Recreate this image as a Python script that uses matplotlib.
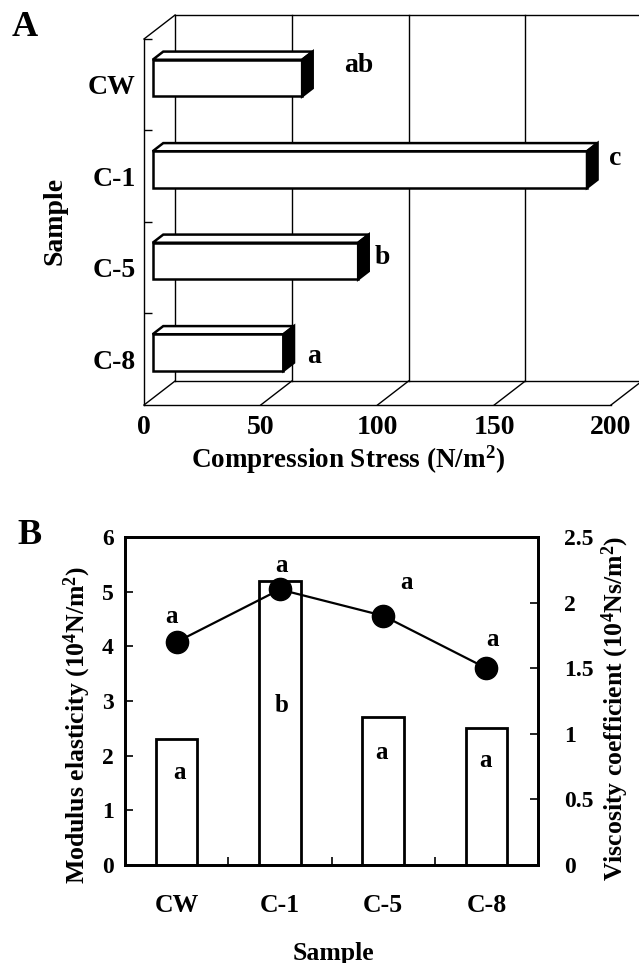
import matplotlib
matplotlib.use("Agg")
import matplotlib.pyplot as plt
from matplotlib.patches import Polygon

# Panel A: compression stress (3D style horizontal bars)
samples = ["CW", "C-1", "C-5", "C-8"]
stress = [64, 186, 88, 56]
stress_letters = ["ab", "c", "b", "a"]
stress_letter_x = [92, 202, 102, 73]
stress_letter_y = [-0.21, 0.81, 1.89, 2.97]
stress_ticks = [0, 50, 100, 150, 200]

# Panel B: modulus (bars, left axis) and viscosity (line, right axis)
modulus = [2.3, 5.2, 2.7, 2.5]
viscosity = [1.7, 2.1, 1.9, 1.5]
modulus_letters = ["a", "b", "a", "a"]
modulus_letter_x = [0.03, 1.02, 1.98, 2.99]
modulus_letter_y = [1.70, 2.92, 2.05, 1.92]
visc_letters = ["a", "a", "a", "a"]
visc_letter_x = [-0.045, 1.02, 2.23, 3.06]
visc_letter_y = [4.55, 5.48, 5.16, 4.13]

plt.rcParams["font.family"] = "Liberation Serif"
plt.rcParams["font.weight"] = "bold"
plt.rcParams["mathtext.fontset"] = "custom"
plt.rcParams["mathtext.rm"] = "Liberation Serif:bold"
plt.rcParams["mathtext.bf"] = "Liberation Serif:bold"
plt.rcParams["mathtext.default"] = "rm"

W, H = 639, 963
fig = plt.figure(figsize=(W / 100, H / 100), dpi=100)


def px_box(x0, y0, x1, y1):
    return [x0 / W, 1 - y1 / H, (x1 - x0) / W, (y1 - y0) / H]


def fig_text(x, y, s, **kw):
    fig.text(x / W, 1 - y / H, s, ha="center", va="center", **kw)


# ---------------- panel A ----------------
axA = fig.add_axes(px_box(144, 39, 611, 405))
axA.set_xlim(0, 200)
axA.set_ylim(3.5, -0.5)
dx, dy = 13.3, -0.262   # box depth in data units
f0, f1 = 0.28, 0.62     # bar front / back as fraction of depth
half = 0.2

kw = dict(color="black", lw=1.0, clip_on=False, zorder=1)
top, bot = -0.5 + dy, 3.5 + dy
axA.plot([dx, 200 + dx], [top, top], **kw)
axA.plot([dx, 200 + dx], [bot, bot], **kw)
axA.plot([dx, dx], [top, bot], **kw)
axA.plot([200 + dx, 200 + dx], [top, bot], **kw)
for v in stress_ticks[1:-1]:
    axA.plot([v + dx, v + dx], [top, bot], **kw)
for v in stress_ticks:
    axA.plot([v, v + dx], [3.5, bot], **kw)
axA.plot([0, dx], [-0.5, top], **kw)

for i, v in enumerate(stress):
    x0, y0 = f0 * dx, i + f0 * dy
    bx, by = (f1 - f0) * dx, (f1 - f0) * dy
    front = [(x0, y0 - half), (x0 + v, y0 - half), (x0 + v, y0 + half), (x0, y0 + half)]
    topf = [(x0, y0 - half), (x0 + bx, y0 - half + by),
            (x0 + v + bx, y0 - half + by), (x0 + v, y0 - half)]
    side = [(x0 + v, y0 - half), (x0 + v + bx, y0 - half + by),
            (x0 + v + bx, y0 + half + by), (x0 + v, y0 + half)]
    for pts, fc in [(topf, "white"), (front, "white"), (side, "black")]:
        axA.add_patch(Polygon(pts, closed=True, facecolor=fc, edgecolor="black",
                              lw=1.8, clip_on=False, zorder=3, joinstyle="miter"))

for s, x, y in zip(stress_letters, stress_letter_x, stress_letter_y):
    axA.text(x, y, s, fontsize=20, ha="center", va="center")

for side_name in ["top", "right"]:
    axA.spines[side_name].set_visible(False)
for side_name in ["left", "bottom"]:
    axA.spines[side_name].set_linewidth(1.0)
axA.set_yticks(range(len(samples)), samples, fontsize=20)
axA.set_yticks([-0.5, 0.5, 1.5, 2.5], minor=True)
axA.tick_params(axis="y", which="major", length=0, pad=6)
axA.tick_params(axis="y", which="minor", direction="in", length=6, width=1)
axA.set_xticks(stress_ticks, [str(t) for t in stress_ticks], fontsize=20)
axA.tick_params(axis="x", length=0, pad=7)
axA.patch.set_alpha(0)

fig_text(25, 27, "A", fontsize=26)
fig_text(348, 460, "Compression Stress (N/m$^2$)", fontsize=19.5)
fig_text(55, 221, "Sample", fontsize=20, rotation=90)

# ---------------- panel B ----------------
axB = fig.add_axes(px_box(125, 537, 538, 865))
xpos = list(range(len(samples)))
axB.bar(xpos, modulus, width=0.4, color="white", edgecolor="black", lw=2.0, zorder=2)
axB.set_xlim(-0.5, 3.5)
axB.set_ylim(0, 6)
axB.set_yticks(range(0, 7))
axB.tick_params(axis="y", direction="in", length=6, width=1.2, pad=8, labelsize=17)
axB.set_xticks(xpos, samples)
axB.set_xticks([0.5, 1.5, 2.5], minor=True)
axB.tick_params(axis="x", which="major", length=0, pad=21, labelsize=18.5)
axB.tick_params(axis="x", which="minor", direction="in", length=6, width=1.2)
for sp in axB.spines.values():
    sp.set_linewidth(2.0)

for s, x, y in zip(modulus_letters, modulus_letter_x, modulus_letter_y):
    axB.text(x, y, s, fontsize=18, ha="center", va="center", zorder=4)
for s, x, y in zip(visc_letters, visc_letter_x, visc_letter_y):
    axB.text(x, y, s, fontsize=18, ha="center", va="center", zorder=4)

axR = axB.twinx()
axR.plot(xpos, viscosity, "o-", color="black", ms=16, lw=1.6, zorder=5)
axR.set_ylim(0, 2.5)
axR.set_yticks([0, 0.5, 1, 1.5, 2, 2.5], ["0", "0.5", "1", "1.5", "2", "2.5"])
axR.tick_params(axis="y", direction="in", length=6, width=1.2, pad=19, labelsize=17)
for sp in axR.spines.values():
    sp.set_linewidth(2.0)

fig_text(30, 536, "B", fontsize=26)
fig_text(77, 725, "Modulus elasticity (10$^4$N/m$^2$)", fontsize=18.5, rotation=90)
fig_text(615, 708, "Viscosity coefficient (10$^4$Ns/m$^2$)", fontsize=18.5, rotation=90)
fig_text(333, 953, "Sample", fontsize=18.5)

fig.savefig("out.png", dpi=100)
